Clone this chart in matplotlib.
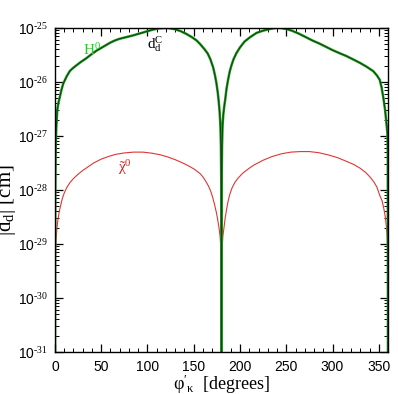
import numpy as np
import matplotlib
matplotlib.use('Agg')
from matplotlib import pyplot as plt
from matplotlib import ticker

plt.rcParams['font.family'] = ['Liberation Sans', 'DejaVu Sans']
plt.rcParams['mathtext.fontset'] = 'custom'
plt.rcParams['mathtext.rm'] = 'Liberation Serif'
plt.rcParams['mathtext.it'] = 'Liberation Serif:italic'

# phi'_kappa [deg] and log10 |d_d| [cm]
# H0 / d_d^C (the two curves lie on top of each other)
phi_h = [0, 0.3, 0.7, 1, 1.5, 2.5, 4, 5.4, 7, 9, 12.6, 16, 19, 23.4, 28, 34, 40, 45, 50, 55,
         60, 65, 70, 77, 84, 92, 100, 106, 112, 118, 124, 130, 136, 142, 148, 153, 157,
         161, 165, 168, 171, 173, 174.5, 176, 177, 178, 178.8, 179.4, 179.8, 180,
         180.2, 180.6, 181.2, 182, 183, 184, 185.5, 187, 189, 191, 193, 196, 200, 205,
         211, 218, 225, 232, 238, 244, 250, 256, 263, 270, 278, 286, 293, 300, 308, 315,
         322, 330, 337, 344, 348, 351, 353, 355, 356.8, 358, 359.3, 359.7, 360]
logd_h = [-33, -28.5, -27.4, -27.1, -26.85, -26.52, -26.37, -26.27, -26.15, -26.03, -25.9,
          -25.8, -25.75, -25.69, -25.63, -25.56, -25.48, -25.42, -25.37, -25.32,
          -25.27, -25.23, -25.2, -25.17, -25.14, -25.1, -25.06, -25.03, -25.01, -25.0,
          -25.005, -25.025, -25.06, -25.11, -25.17, -25.23, -25.3,
          -25.38, -25.47, -25.58, -25.73, -25.88, -26.02, -26.2, -26.36, -26.56, -26.8,
          -27.2, -28.0, -33,
          -28.0, -27.2, -26.8, -26.6, -26.45, -26.33, -26.12, -25.97, -25.8, -25.68,
          -25.58, -25.47, -25.36, -25.25,
          -25.17, -25.09, -25.05, -25.02, -25.0, -25.0, -25.02, -25.05, -25.1, -25.16,
          -25.23, -25.29, -25.35, -25.41, -25.47, -25.52,
          -25.58, -25.65, -25.72, -25.8, -25.88, -25.96, -26.1, -26.3, -26.52, -26.72,
          -26.95, -27.3, -33]

# neutralino contribution
phi_c = [0, 0.3, 0.7, 1.2, 2, 3, 4.5, 6, 8, 10, 13, 16, 20, 25, 30, 36, 42, 50, 58, 66,
         75, 85, 95, 105, 114, 122, 130, 138, 145, 151, 154, 157, 160, 163, 166, 168.5,
         170.5, 172.5, 174.5, 176, 177.3, 178.5, 179.3, 180,
         180.7, 181.5, 182.7, 184, 185.5, 187, 189, 191.5, 194.5, 198, 203, 209, 215, 225,
         235, 245, 255, 265, 275, 285, 295, 305, 315, 323, 330, 336, 341, 345, 348, 351,
         353.5, 355.5, 357, 358, 359, 359.6, 360]
logd_c = [-33, -29.6, -29.15, -28.95, -28.75, -28.58, -28.42, -28.3, -28.16, -28.06,
          -27.95, -27.87, -27.79, -27.71, -27.64, -27.57, -27.5, -27.43, -27.38, -27.34,
          -27.315, -27.3, -27.3, -27.32, -27.35, -27.39, -27.44, -27.5, -27.56, -27.62,
          -27.66, -27.7, -27.76, -27.84, -27.93, -28.03,
          -28.14, -28.27, -28.42, -28.56, -28.7, -28.86, -29.1, -33,
          -29.1, -28.86, -28.7, -28.52, -28.36, -28.22, -28.08, -27.96, -27.86, -27.78,
          -27.69, -27.61, -27.54, -27.45,
          -27.38, -27.33, -27.3, -27.29, -27.29, -27.31, -27.35, -27.4, -27.47, -27.53,
          -27.6, -27.68, -27.77, -27.86, -27.95, -28.1,
          -28.2, -28.35, -28.5, -28.65, -28.85, -29.2, -33]


def exp_fmt(v, pos):
    e = int(round(np.log10(v)))
    return r"$\mathdefault{10^{\text{%d}}}$" % e


fig = plt.figure(figsize=(3.98, 3.94), dpi=100)
ax = fig.add_axes([0.138, 0.107, 0.837, 0.822])

ax.plot(phi_c, 10.0 ** np.array(logd_c), color='#e03535', linewidth=0.8)
ax.plot(phi_h, 10.0 ** np.array(logd_h), color='#22a022', linewidth=1.8)
ax.plot(phi_h, 10.0 ** np.array(logd_h), color='black', linewidth=0.8, alpha=0.55)

ax.set_yscale('log')
ax.set_xlim(0, 360)
ax.set_ylim(1e-31, 1e-25)

ax.xaxis.set_major_locator(ticker.MultipleLocator(50))
ax.xaxis.set_minor_locator(ticker.MultipleLocator(10))
ax.yaxis.set_major_locator(ticker.LogLocator(base=10, numticks=10))
ax.yaxis.set_minor_locator(ticker.LogLocator(base=10, subs=np.arange(2, 10), numticks=20))
ax.yaxis.set_major_formatter(ticker.FuncFormatter(exp_fmt))
ax.yaxis.set_minor_formatter(ticker.NullFormatter())
ax.tick_params(which='both', direction='in', top=True, right=True, labelsize=10)
ax.tick_params(axis='y', pad=5)
ax.tick_params(axis='x', pad=6)
ax.tick_params(which='major', length=6, width=0.9)
ax.tick_params(which='minor', length=3, width=0.7)
for s in ax.spines.values():
    s.set_linewidth(1.0)

ax.set_xlabel(r"$\mathrm{φ'_{κ}}$  [degrees]", family=['Liberation Serif', 'DejaVu Serif'],
              fontsize=13, labelpad=-1)
fig.text(-0.012, 0.492, r"$\mathrm{|d_d|}$ [cm]", rotation=90, ha='left', va='center',
         family=['Liberation Serif', 'DejaVu Serif'], fontsize=15)

ax.text(0.083, 0.917, r"$\mathrm{H^0}$", transform=ax.transAxes, color='#22cc22', fontsize=11)
ax.text(0.276, 0.938, r"$\mathrm{d_d^C}$", transform=ax.transAxes, color='black', fontsize=11)
ax.text(0.19, 0.556, r"$\mathrm{\tilde{χ}^0}$", transform=ax.transAxes, color='#d02020',
        fontsize=11)

plt.savefig("out.png", dpi=100)
